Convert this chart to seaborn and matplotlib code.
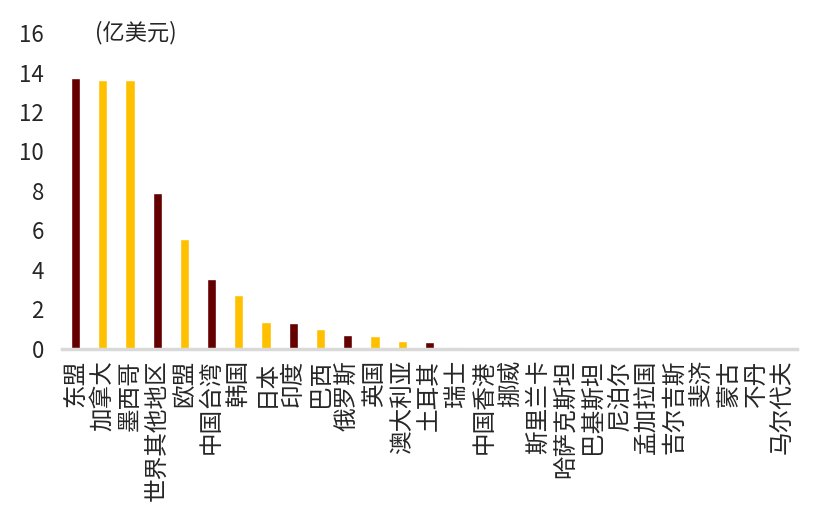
import seaborn as sns
import matplotlib.pyplot as plt
import pandas as pd

# 各地区数值 (亿美元)
regions = ["东盟", "加拿大", "墨西哥", "世界其他地区", "欧盟", "中国台湾", "韩国", "日本",
           "印度", "巴西", "俄罗斯", "英国", "澳大利亚", "土耳其", "瑞士", "中国香港",
           "挪威", "斯里兰卡", "哈萨克斯坦", "巴基斯坦", "尼泊尔", "孟加拉国", "吉尔吉斯",
           "斐济", "蒙古", "不丹", "马尔代夫"]
values = [13.7, 13.63, 13.63, 7.88, 5.56, 3.51, 2.73, 1.36,
          1.28, 1.0, 0.70, 0.63, 0.40, 0.33, 0.09, 0.0,
          0.0, 0.0, 0.0, 0.0, 0.0, 0.0, 0.0,
          0.0, 0.0, 0.0, 0.0]
groups = ["a", "b", "b", "a", "b", "a", "b", "b",
          "a", "b", "a", "b", "b", "a", "a", "b",
          "b", "b", "b", "b", "b", "b", "b",
          "b", "b", "b", "b"]
y_ticks = [0, 2, 4, 6, 8, 10, 12, 14, 16]

df = pd.DataFrame({"region": regions, "value": values, "group": groups})

sns.set_style("white")
plt.rcParams['font.family'] = ['Noto Sans CJK SC', 'DejaVu Sans']

fig = plt.figure(figsize=(8.25, 5.25), dpi=100)
ax = fig.add_axes([0.075, 0.336, 0.891, 0.601])

sns.barplot(data=df, x="region", y="value", hue="group",
            palette={"a": "#640000", "b": "#FFC000"}, saturation=1,
            dodge=False, width=0.34, legend=False, ax=ax)

ax.set_ylim(0, 16)
ax.set_xlim(-0.5, len(regions) - 0.5)
ax.set_yticks(y_ticks)
ax.set_yticklabels([str(t) for t in y_ticks], fontsize=16)
ax.tick_params(axis="x", labelrotation=90, labelsize=17, length=0, pad=8)
ax.tick_params(axis="y", length=0, pad=13)
for lab in ax.get_xticklabels():
    lab.set_va("top")
ax.set_xlabel("")
ax.set_ylabel("")

for side in ["top", "right", "left"]:
    ax.spines[side].set_visible(False)
ax.spines["bottom"].set_color("#D9D9D9")
ax.spines["bottom"].set_linewidth(2.5)

ax.text(0.045, 16, "(亿美元)", fontsize=16, va="center", ha="left",
        transform=ax.get_yaxis_transform())

fig.savefig("out.png", dpi=100)
